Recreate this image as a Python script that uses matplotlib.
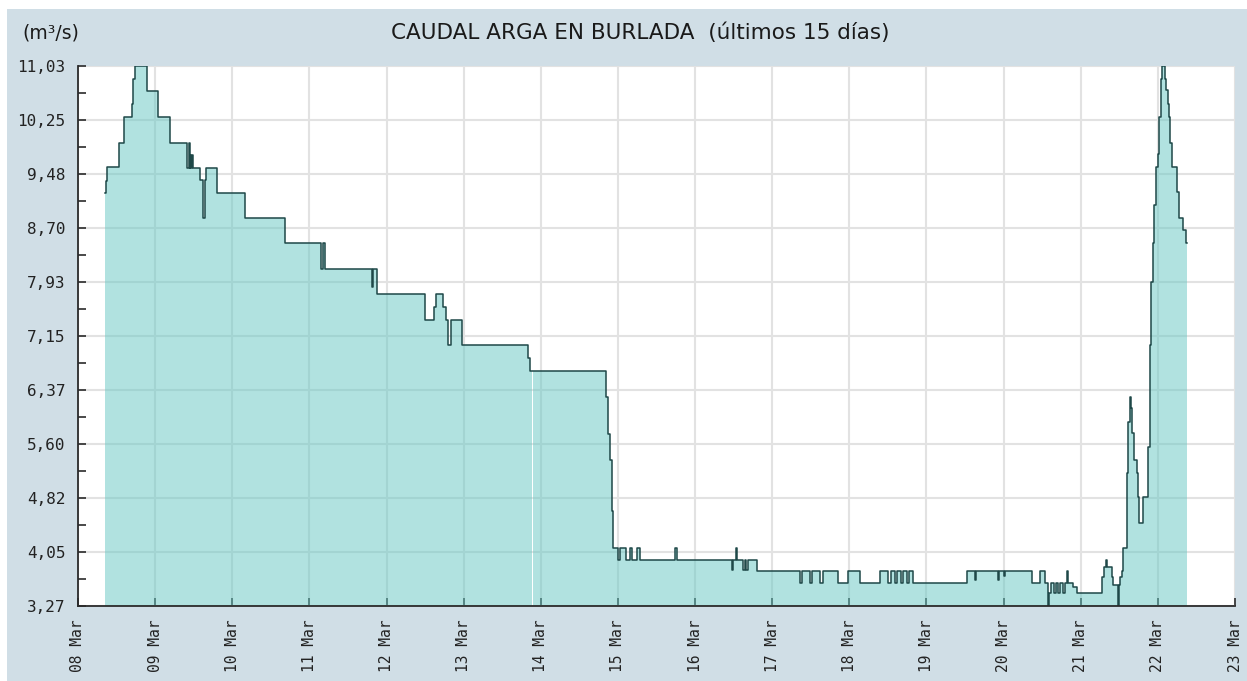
import matplotlib
matplotlib.use("Agg")
import matplotlib.pyplot as plt
import matplotlib.dates as mdates
from matplotlib.patches import Rectangle
from matplotlib.ticker import FuncFormatter
import numpy as np
import pandas as pd

# ---------------- data ----------------
start = pd.Timestamp("2021-03-08 00:00")
end_hour = 345.0                      # last reading (hours since start)
gap_hours = (141.2, 141.5)            # short data gap (white sliver in the fill)

hours = [8.4, 8.7, 9.0, 12.85, 14.3, 16.7, 17.2, 17.7, 21.4, 24.8, 28.6, 33.8, 34.5, 34.7,
         35.0, 35.2, 35.5, 35.7, 38.0, 38.9, 39.4, 39.8, 43.3, 52.0, 64.4, 75.6, 76.2, 76.7,
         91.4, 91.9, 93.1, 108.0, 110.8, 111.3, 113.5, 114.4, 115.0, 116.1, 119.4, 139.9,
         140.6, 164.2, 165.0, 165.5, 166.1, 166.6, 168.1, 168.6, 170.6, 171.8, 172.5, 174.0,
         175.0, 185.7, 186.4, 203.4, 203.8, 204.6, 205.0, 206.9, 207.4, 208.0, 208.4, 211.2,
         224.6, 225.3, 227.8, 228.4, 230.9, 231.8, 236.6, 239.7, 243.3, 249.5, 252.0, 253.0,
         254.2, 254.9, 256.0, 256.6, 258.0, 258.6, 259.9, 276.5, 279.1, 279.4, 286.3, 286.7,
         288.1, 288.4, 296.7, 299.3, 300.9, 301.8, 302.1, 302.7, 303.6, 304.2, 304.9, 305.5,
         306.4, 307.1, 307.6, 308.0, 309.6, 310.7, 318.5, 319.2, 319.8, 320.3, 321.6, 322.1,
         323.6, 323.9, 324.2, 324.7, 325.2, 326.3, 326.8, 327.3, 327.5, 327.9, 328.6, 329.4,
         329.7, 330.1, 331.5, 333.0, 333.5, 333.9, 334.4, 334.8, 335.3, 336.1, 336.4, 336.9,
         337.3, 338.3, 338.5, 339.1, 339.4, 339.8, 340.5, 342.0, 342.7, 343.9, 344.6]

flow = [9.21, 9.38, 9.58, 9.93, 10.30, 10.48, 10.85, 11.03, 10.67, 10.30, 9.93, 9.57, 9.93, 9.57,
        9.75, 9.57, 9.75, 9.57, 9.39, 8.84, 9.39, 9.57, 9.21, 8.84, 8.48, 8.12, 8.48, 8.12,
        7.85, 8.12, 7.75, 7.38, 7.57, 7.75, 7.57, 7.38, 7.02, 7.38, 7.02, 6.83,
        6.65, 6.28, 5.74, 5.37, 4.63, 4.10, 3.93, 4.10, 3.93, 4.10, 3.93, 4.10,
        3.93, 4.10, 3.93, 3.79, 3.93, 4.10, 3.93, 3.79, 3.93, 3.79, 3.93, 3.78,
        3.60, 3.78, 3.60, 3.78, 3.60, 3.78, 3.60, 3.78, 3.60, 3.78, 3.60, 3.78,
        3.60, 3.78, 3.60, 3.78, 3.60, 3.78, 3.60, 3.78, 3.65, 3.78, 3.65, 3.78,
        3.70, 3.78, 3.60, 3.78, 3.60, 3.27, 3.45, 3.60, 3.45, 3.60, 3.45, 3.60,
        3.45, 3.60, 3.78, 3.60, 3.55, 3.45, 3.69, 3.83, 3.93, 3.83, 3.69, 3.57,
        3.27, 3.57, 3.69, 3.77, 4.10, 5.18, 5.92, 6.28, 6.11, 5.75, 5.37, 5.18,
        4.84, 4.46, 4.84, 5.56, 7.02, 7.93, 8.48, 9.03, 9.58, 9.77, 10.30, 10.85,
        11.03, 10.85, 10.68, 10.49, 10.30, 9.92, 9.58, 9.22, 8.85, 8.67, 8.48]

yticks = [3.27, 4.05, 4.82, 5.60, 6.37, 7.15, 7.93, 8.70, 9.48, 10.25, 11.03]
title = "CAUDAL ARGA EN BURLADA  (últimos 15 días)"
unit = "(m³/s)"

# ---------------- figure ----------------
W, H = 1247, 681
fig = plt.figure(figsize=(W / 100, H / 100), dpi=100, facecolor="white")
fig.patches.append(Rectangle((7 / W, 0), 1, 1 - 9 / H, transform=fig.transFigure,
                             facecolor="#d0dee6", edgecolor="none", zorder=-10))

ax = fig.add_axes([78 / W, 1 - 606 / H, (1235 - 78) / W, (606 - 66) / H])
ax.set_facecolor("white")

h = np.array(hours + [end_hour])
v = np.array(flow + [flow[-1]])
t = start + pd.to_timedelta(h, unit="h")
base = yticks[0]


def clip_steps(hh, vv, a, b):
    """Return step series restricted to [a, b] (step='post')."""
    i0 = np.searchsorted(hh, a, side="right") - 1
    inner = (hh > a) & (hh < b)
    hx = np.concatenate([[a], hh[inner], [b]])
    vals_inner = vv[inner]
    last = vals_inner[-1] if len(vals_inner) else vv[i0]
    vx = np.concatenate([[vv[i0]], vals_inner, [last]])
    return hx, vx


fill_color = "#65c7c3"
for a, b in [(h[0], gap_hours[0]), (gap_hours[1], h[-1])]:
    hx, vx = clip_steps(h, v, a, b)
    tx = start + pd.to_timedelta(hx, unit="h")
    ax.fill_between(tx, vx, base, step="post", facecolor=fill_color, alpha=0.5,
                    linewidth=0, zorder=2)

ax.step(t, v, where="post", color="#1e4848", linewidth=1.1, zorder=3)

# axes
ax.set_xlim(start, start + pd.Timedelta(days=15))
ax.set_ylim(yticks[0], yticks[-1])
ax.set_yticks(yticks)
ax.set_yticks([(a + b) / 2 for a, b in zip(yticks[:-1], yticks[1:])], minor=True)
ax.yaxis.set_major_formatter(FuncFormatter(lambda y, p: f"{y:.2f}".replace(".", ",")))
ax.xaxis.set_major_locator(mdates.DayLocator())
ax.xaxis.set_major_formatter(mdates.DateFormatter("%d %b"))

ax.grid(True, which="major", color="#e2e2e2", linewidth=1.5, zorder=1)
ax.set_axisbelow(True)

for s in ["top", "right"]:
    ax.spines[s].set_visible(False)
for s in ["left", "bottom"]:
    ax.spines[s].set_color("#2b2b2b")
    ax.spines[s].set_linewidth(1.3)
    ax.spines[s].set_zorder(5)

mono = "DejaVu Sans Mono"
ax.tick_params(axis="both", which="both", direction="in", length=6, width=1.2, color="#2b2b2b")
ax.tick_params(axis="y", pad=9, labelsize=11.5, labelcolor="#222222")
ax.tick_params(axis="x", pad=10, labelsize=10.5, labelcolor="#222222", labelrotation=90)
for lab in ax.get_yticklabels() + ax.get_xticklabels():
    lab.set_family(mono)
for lab in ax.get_xticklabels():
    lab.set_rotation(90)
    lab.set_va("top")
    lab.set_ha("center")

fig.text(640 / W, 1 - 33 / H, title, ha="center", va="center", fontsize=15.5,
         family="DejaVu Sans", color="#1a1a1a")
fig.text(22 / W, 1 - 33 / H, unit, ha="left", va="center", fontsize=13.5,
         family="DejaVu Sans", color="#1a1a1a")

fig.savefig("out.png", dpi=100, facecolor=fig.get_facecolor())
